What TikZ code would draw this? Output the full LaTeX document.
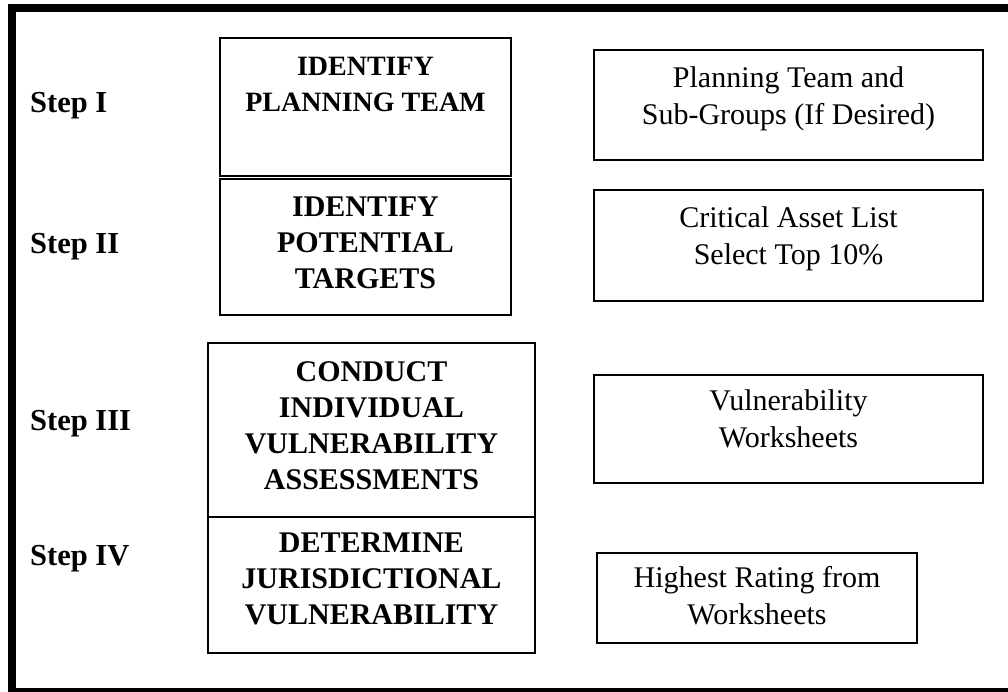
\documentclass[tikz,border=0pt]{standalone}
\usepackage{fontspec}
\setmainfont{Liberation Serif}
\begin{document}
\begin{tikzpicture}[x=1pt,y=-1pt,
  box/.style={draw, line width=2pt, inner sep=0pt, anchor=north west},
  boldtxt/.style={anchor=north, inner sep=0pt, align=center, font=\fontsize{30}{36}\selectfont\bfseries},
  plaintxt/.style={anchor=north, inner sep=0pt, align=center, font=\fontsize{30}{37}\selectfont},
  steplabel/.style={anchor=base west, inner sep=0pt, font=\fontsize{30.5}{36}\selectfont\bfseries}]
\useasboundingbox (0,0) rectangle (1008,692);
\clip (0,0) rectangle (1008,692);
% outer frame
\draw[line width=8pt] (12,8) rectangle (1030,692);
% step labels
\node[steplabel] (s1) at (30,113) {Step I};
\node[steplabel] (s2) at (30,254) {Step II};
\node[steplabel] (s3) at (30,430) {Step III};
\node[steplabel] (s4) at (30,565) {Step IV};
% left boxes
\node[box, minimum width=291pt, minimum height=138pt] (b1) at (219,37) {};
\node[box, minimum width=291pt, minimum height=136pt] (b2) at (219,178) {};
\node[box, minimum width=327pt, minimum height=174pt] (b3) at (207,342) {};
\node[box, minimum width=327pt, minimum height=136pt] (b4) at (207,516) {};
\node[boldtxt, font=\fontsize{28}{36}\selectfont\bfseries] (t1) at ([yshift=-20pt]b1.north) {IDENTIFY\\PLANNING TEAM};
\node[boldtxt] (t2) at ([yshift=-19pt]b2.north) {IDENTIFY\\POTENTIAL\\TARGETS};
\node[boldtxt] (t3) at ([yshift=-19pt]b3.north) {CONDUCT\\INDIVIDUAL\\VULNERABILITY\\ASSESSMENTS};
\node[boldtxt] (t4) at ([yshift=-17pt]b4.north) {DETERMINE\\JURISDICTIONAL\\VULNERABILITY};
% right boxes
\node[box, minimum width=389pt, minimum height=110pt] (r1) at (593,49) {};
\node[box, minimum width=389pt, minimum height=111pt] (r2) at (593,189) {};
\node[box, minimum width=389pt, minimum height=108pt] (r3) at (593,374) {};
\node[box, minimum width=320pt, minimum height=90pt] (r4) at (596,552) {};
\node[plaintxt] (u1) at ([yshift=-17pt]r1.north) {Planning Team and\\Sub-Groups (If Desired)};
\node[plaintxt] (u2) at ([yshift=-17pt]r2.north) {Critical Asset List\\Select Top 10\%};
\node[plaintxt] (u3) at ([yshift=-15pt]r3.north) {Vulnerability\\Worksheets};
\node[plaintxt] (u4) at ([yshift=-14pt]r4.north) {Highest Rating from\\Worksheets};
\end{tikzpicture}
\end{document}
